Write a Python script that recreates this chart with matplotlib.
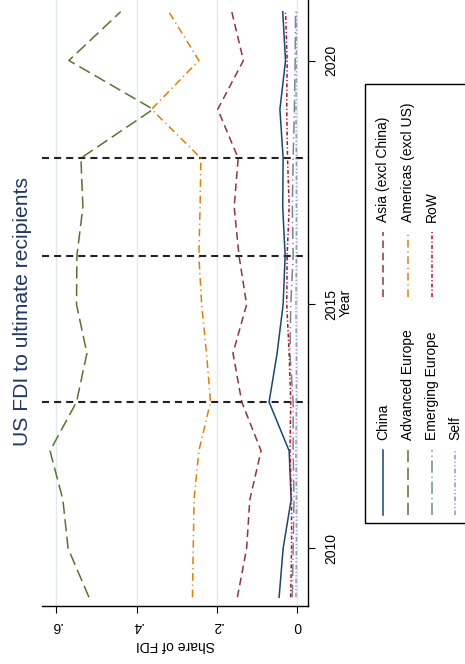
import matplotlib
matplotlib.use("Agg")
import matplotlib.pyplot as plt
from matplotlib.lines import Line2D
from matplotlib.patches import Rectangle

plt.rcParams["font.family"] = ["Liberation Sans", "DejaVu Sans"]

# data (share of US FDI by ultimate recipient), 2009-2021
years = list(range(2009, 2022))
china = [0.045, 0.035, 0.015, 0.020, 0.070, 0.050, 0.035, 0.030, 0.036, 0.035, 0.043, 0.029, 0.036]
asia = [0.149, 0.126, 0.118, 0.090, 0.138, 0.160, 0.126, 0.145, 0.157, 0.147, 0.198, 0.134, 0.163]
adv_europe = [0.519, 0.571, 0.584, 0.616, 0.550, 0.524, 0.550, 0.549, 0.534, 0.539, 0.359, 0.569, 0.440]
americas = [0.261, 0.259, 0.257, 0.245, 0.216, 0.226, 0.238, 0.245, 0.242, 0.240, 0.363, 0.245, 0.320]
emerging = [0.012, 0.010, 0.008, 0.010, 0.010, 0.018, 0.016, 0.010, 0.012, 0.010, 0.007, 0.005, 0.004]
rest = [0.016, 0.014, 0.014, 0.018, 0.016, 0.020, 0.026, 0.025, 0.020, 0.024, 0.026, 0.025, 0.029]
self_ = [0.003, 0.002, 0.002, 0.003, 0.002, 0.002, 0.003, 0.002, 0.002, 0.002, 0.003, 0.002, 0.002]
event_years = [2013, 2016, 2018]
share_ticks = [0, 0.2, 0.4, 0.6]
share_labels = ["0", ".2", ".4", ".6"]
year_ticks = [2010, 2015, 2020]

# stata s2color-ish styles
series = [
    ("China", china, "#1a476f", "-"),
    ("Asia (excl China)", asia, "#90353b", (0, (5, 3))),
    ("Advanced Europe", adv_europe, "#55752f", (0, (8, 3.5))),
    ("Americas (excl US)", americas, "#e37e00", (0, (5, 2.5, 0.8, 2.5))),
    ("Emerging Europe", emerging, "#6e8e84", (0, (8, 2.5, 0.8, 2.5))),
    ("RoW", rest, "#c10534", (0, (2.5, 1.5, 0.8, 1.5))),
    ("Self", self_, "#938dd2", (0, (3, 1.5, 0.8, 1.5, 0.8, 1.5))),
]

W, H = 465, 664
fig = plt.figure(figsize=(W / 100, H / 100), dpi=100)
fig.patch.set_facecolor("white")


def fx(x):
    return x / W


def fy(y):
    return 1 - y / H


# chart is drawn turned a quarter turn: share runs right-to-left, years bottom-to-top
ax = fig.add_axes([fx(42), fy(606), fx(308) - fx(42), fy(0) - fy(606)])
ax.set_xlim(0.636, -0.027)
ax.set_ylim(2008.82, 2021.24)

for v in share_ticks:
    ax.axvline(v, color="#dfe9ee", lw=1.0, zorder=0.5)
for yr in event_years:
    ax.axhline(yr, color="#222222", lw=1.5, ls=(0, (3.4, 2.4)), zorder=1.5)

for name, vals, col, ls in series:
    ax.plot(vals, years, color=col, ls=ls, lw=1.1, zorder=2)

for s in ["top", "left"]:
    ax.spines[s].set_visible(False)
ax.spines["right"].set_linewidth(1.0)
ax.spines["bottom"].set_linewidth(1.0)

ax.yaxis.tick_right()
ax.set_yticks(year_ticks)
ax.set_yticklabels([str(y) for y in year_ticks], rotation=90, va="center", fontsize=10)
ax.tick_params(axis="y", length=5, pad=7)
ax.set_xticks(share_ticks)
ax.set_xticklabels(share_labels, rotation=180, fontsize=10)
ax.tick_params(axis="x", length=5, pad=4)

fig.text(fx(346), fy(303), "Year", rotation=90, ha="center", va="center", fontsize=10)
fig.text(fx(175), fy(645), "Share of FDI", rotation=180, ha="center", va="center", fontsize=10)
fig.text(fx(23), fy(311), "US FDI to ultimate recipients", rotation=90,
         ha="center", va="center", fontsize=15.2, color="#1f3864")

# legend box (hand placed, rotated)
fig.patches.append(Rectangle((fx(365), fy(523)), fx(470) - fx(365), fy(84) - fy(523),
                             transform=fig.transFigure, fill=False, ec="black", lw=1.0))
cols = [383, 408, 432, 455]
slots = [(cols[0], 0), (cols[0], 1), (cols[1], 0), (cols[1], 1),
         (cols[2], 0), (cols[2], 1), (cols[3], 0)]
for (name, vals, col, ls), (x, grp) in zip(series, slots):
    y0, y1, yt = (515, 450, 440) if grp == 0 else (297, 232, 222)
    fig.add_artist(Line2D([fx(x), fx(x)], [fy(y0), fy(y1)], color=col, ls=ls, lw=1.1,
                          transform=fig.transFigure))
    fig.text(fx(x), fy(yt), name, rotation=90, ha="center", va="bottom", fontsize=10)

fig.savefig("out.png", dpi=100)
